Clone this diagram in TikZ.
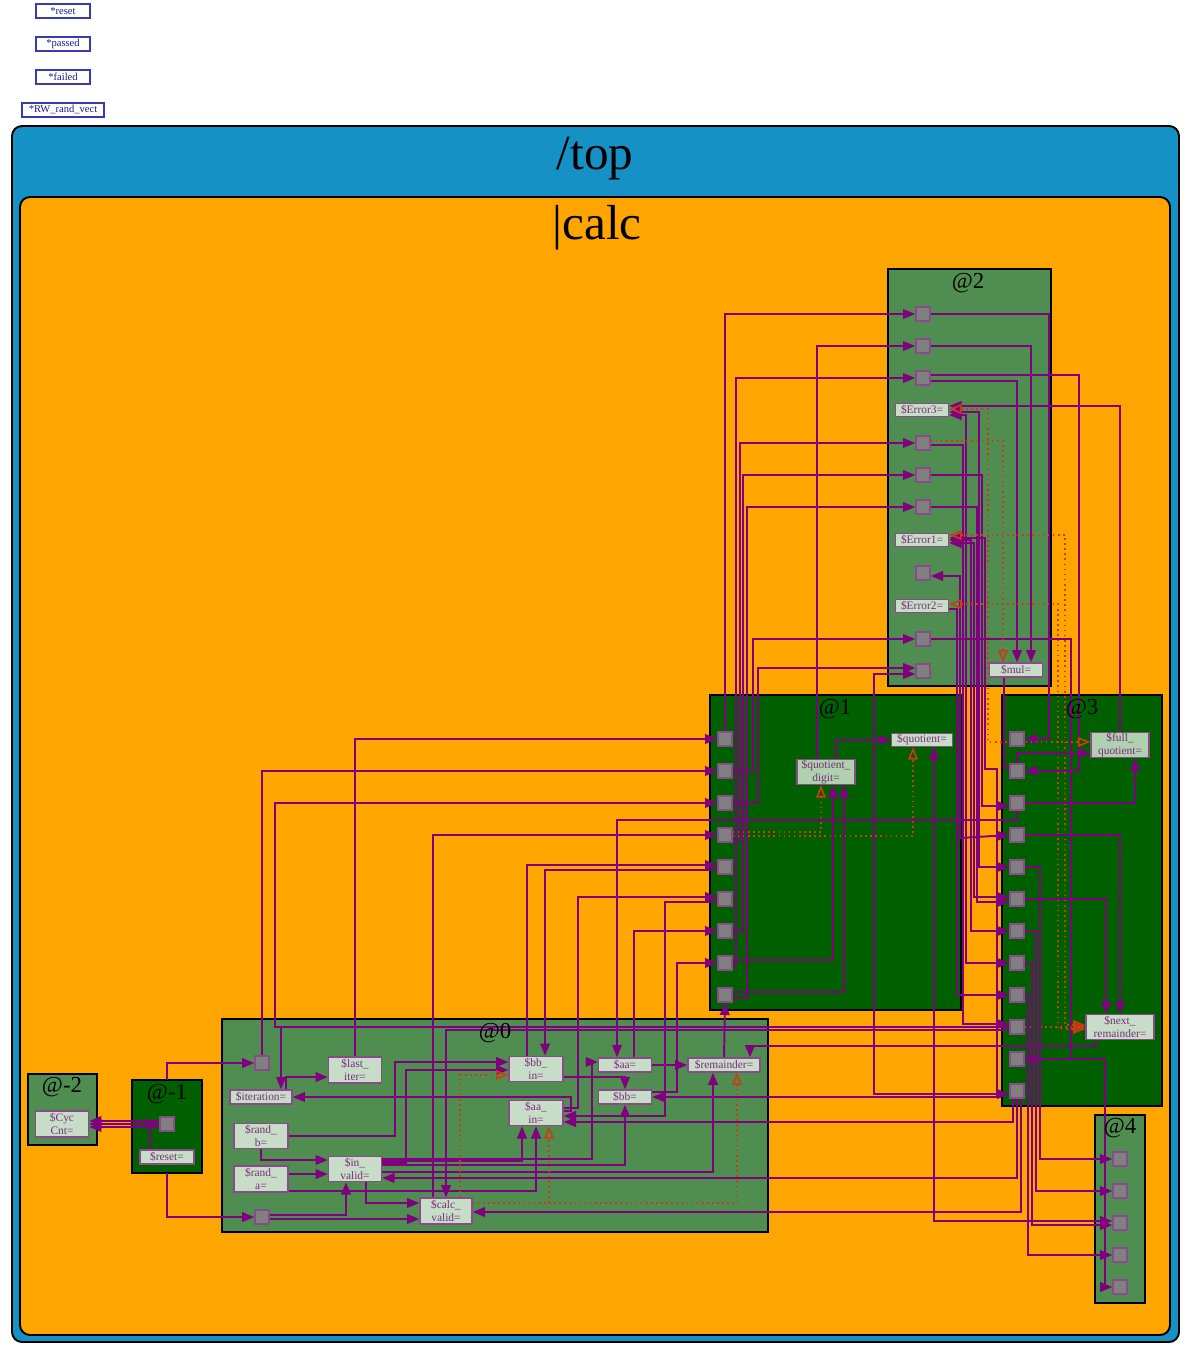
\documentclass[tikz,border=0pt]{standalone}
\usepackage{fontspec}
\setmainfont{Liberation Serif}
\usetikzlibrary{arrows.meta,positioning,calc}
\definecolor{topblue}{HTML}{1591C5}
\definecolor{calcorange}{HTML}{FFA500}
\definecolor{grpmid}{HTML}{508D50}
\definecolor{grpdark}{HTML}{006000}
\definecolor{sigfill}{HTML}{C8DDC8}
\definecolor{sigfilldk}{HTML}{B0D0B0}
\definecolor{sigline}{HTML}{8B4A8B}
\definecolor{sigtext}{HTML}{7A2E7A}
\definecolor{portfill}{HTML}{808080}
\definecolor{wirec}{HTML}{800080}
\definecolor{dotc}{HTML}{D03A10}
\definecolor{legline}{HTML}{3A3AB0}
\definecolor{legtext}{HTML}{1A1A8C}
\newcommand\sigfont{\fontsize{6.5}{7}\selectfont}
\pgfdeclarelayer{bg}
\pgfdeclarelayer{wires}
\pgfsetlayers{bg,wires,main}

\begin{document}
\begin{tikzpicture}[x=0.02cm,y=-0.02cm,
    legbox/.style={draw=legline, line width=0.7pt, fill=white, text=legtext,
        font=\fontsize{6}{7}\selectfont, inner sep=0pt, minimum height=0.28cm, minimum width=#1cm},
    grp/.style={draw=black, line width=1.1pt, fill=#1},
    grplabel/.style={font=\fontsize{13}{14}\selectfont},
    port/.style={draw=sigline, line width=0.8pt, fill=portfill, minimum size=0.28cm, inner sep=0pt},
    sig/.style 2 args={draw=sigline, line width=0.8pt, fill=sigfill, text=sigtext, font=\sigfont,
        align=center, inner sep=0pt, minimum width=#1cm, minimum height=#2cm},
    wire/.style={draw=wirec, line width=1.1pt, -{Triangle[length=7pt,width=5.5pt]}},
    wire2/.style={draw=wirec, line width=1.1pt, {Triangle[length=7pt,width=5.5pt]}-{Triangle[length=7pt,width=5.5pt]}},
    link/.style={draw=wirec, line width=1.1pt},
    dot/.style={draw=dotc, line width=0.9pt, dotted, -{Triangle[open,length=7pt,width=5.5pt]}},
    dot2/.style={draw=dotc, line width=0.9pt, dotted, {Triangle[open,length=7pt,width=5.5pt]}-{Triangle[open,length=7pt,width=5.5pt]}}]
\useasboundingbox (0,0) rectangle (1191,1355);

% legend
\node[legbox=1.08] (lg1) at (63,11) {*reset};
\node[legbox=1.08] (lg2) at (63,44) {*passed};
\node[legbox=1.08] (lg3) at (63,77) {*failed};
\node[legbox=1.64] (lg4) at (63,110) {*RW\_rand\_vect};

% frames and groups
\begin{pgfonlayer}{bg}
\draw[grp=topblue, rounded corners=0.2cm] (12,126) rectangle (1179,1342);
\draw[grp=calcorange, rounded corners=0.2cm] (20,197) rectangle (1170,1335);
\draw[grp=grpmid] (888,269) rectangle (1051,686);
\draw[grp=grpdark] (710,695) rectangle (961,1010);
\draw[grp=grpdark] (1002,695) rectangle (1162,1106);
\draw[grp=grpmid] (222,1019) rectangle (768,1232);
\draw[grp=grpmid] (28,1074) rectangle (97,1145);
\draw[grp=grpdark] (132,1080) rectangle (202,1173);
\draw[grp=grpmid] (1095,1115) rectangle (1145,1303);
\end{pgfonlayer}
\node[font=\fontsize{28}{30}\selectfont] (ttop) at (595,159) {/top};
\node[font=\fontsize{28}{30}\selectfont] (tcalc) at (597,228) {|calc};
\node[grplabel] (l2) at (968,283) {@2};
\node[grplabel] (l1) at (835,709) {@1};
\node[grplabel] (l3) at (1082,709) {@3};
\node[grplabel] (l0) at (495,1033) {@0};
\node[grplabel] (lm2) at (62,1087) {@-2};
\node[grplabel] (lm1) at (167,1094) {@-1};
\node[grplabel] (l4) at (1120,1128) {@4};

% ports
\foreach \y [count=\i] in {314,346,378,443,475,507,573,639,671}
    \node[port] (p2-\i) at (923,\y) {};
\foreach \i in {1,...,9}
    \node[port] (p1-\i) at (725,707+32*\i) {};
\foreach \i in {1,...,12}
    \node[port] (p3-\i) at (1017,707+32*\i) {};
\foreach \i in {1,...,5}
    \node[port] (p4-\i) at (1120,1127+32*\i) {};
\node[port] (p0-1) at (262,1063) {};
\node[port] (p0-2) at (262,1217) {};
\node[port] (pm1) at (167,1124) {};

% signals
\node[sig={1.06}{0.26}] (err3) at (922,410) {\$Error3=};
\node[sig={1.06}{0.26}] (err1) at (922,540) {\$Error1=};
\node[sig={1.06}{0.26}] (err2) at (922,606) {\$Error2=};
\node[sig={1.06}{0.28}] (mul) at (1016,670) {\$mul=};
\node[sig={1.16}{0.5}, fill=sigfilldk] (qd) at (826,772) {\$quotient\_\\digit=};
\node[sig={1.22}{0.26}] (quot) at (922,740) {\$quotient=};
\node[sig={1.16}{0.5}, fill=sigfilldk] (fq) at (1120,745) {\$full\_\\quotient=};
\node[sig={1.36}{0.5}] (nr) at (1120,1027) {\$next\_\\remainder=};
\node[sig={1.06}{0.52}] (lastit) at (355,1070) {\$last\_\\iter=};
\node[sig={1.24}{0.28}] (iter) at (261,1097) {\$iteration=};
\node[sig={1.08}{0.5}] (randb) at (261,1136) {\$rand\_\\b=};
\node[sig={1.08}{0.52}] (randa) at (261,1179) {\$rand\_\\a=};
\node[sig={1.06}{0.5}] (inval) at (355,1169) {\$in\_\\valid=};
\node[sig={1.04}{0.52}] (calcv) at (446,1211) {\$calc\_\\valid=};
\node[sig={1.08}{0.5}] (bbin) at (536,1069) {\$bb\_\\in=};
\node[sig={1.08}{0.5}] (aain) at (536,1113) {\$aa\_\\in=};
\node[sig={1.06}{0.28}] (aa) at (625,1065) {\$aa=};
\node[sig={1.06}{0.28}] (bb) at (625,1097) {\$bb=};
\node[sig={1.44}{0.28}] (rem) at (724,1065) {\$remainder=};
\node[sig={1.06}{0.52}] (cyc) at (62,1124) {\$Cyc\\Cnt=};
\node[sig={1.08}{0.28}] (rst) at (167,1157) {\$reset=};
\coordinate (m1top) at (167,1080);
\coordinate (m1bot) at (167,1173);

\begin{pgfonlayer}{wires}
% @1 up to @2
\draw[wire] (p1-1.north) |- (p2-1.west);
\draw[wire] ($(p1-8.east)+(0,3)$) -| (736,378) -- (p2-3.west);
\draw[wire] ($(p1-4.east)+(0,5)$) -| (740,443) -- (p2-4.west);
\draw[wire] (p1-7.east) -| (743,475) -- (p2-5.west);
\draw[wire] ($(p1-9.east)+(0,3)$) -| (747,507) -- (p2-6.west);
\draw[wire] (p1-2.east) -| (753,639) -- (p2-8.west);
\draw[wire] (p1-3.east) -| (758,668) -- ($(p2-9.west)+(0,-3)$);
\draw[wire] ($(qd.north)+(-9,0)$) |- (p2-2.west);
\draw[wire] ($(qd.north)+(10,0)$) |- (quot.west);
\draw[wire] ($(p1-8.east)+(0,-3)$) -| ($(qd.south)+(7,0)$);
\draw[wire] ($(p1-9.east)+(0,-3)$) -| ($(qd.south)+(18,0)$);
\draw[dot] ($(p1-4.east)+(0,-3)$) -| ($(qd.south)+(-5,0)$);
\draw[dot] ($(p1-4.east)+(0,1)$) -| ($(quot.south)+(-9,0)$);
% @2 outputs
\draw[wire] (p2-1.east) -| (1049,739) -- (p3-1.east);
\draw[wire] (p2-2.east) -| ($(mul.north)+(15,0)$);
\draw[wire] ($(p2-3.east)+(0,-3)$) -| (1079,771) -- (p3-2.east);
\draw[wire] ($(p2-3.east)+(0,3)$) -| ($(mul.north)+(1,0)$);
\draw[wire] (fq.north) |- ($(err3.east)+(0,-4)$);
\draw[wire] (p2-8.east) -| (1071,1059) -- (p3-11.east);
\draw[wire2] ($(p2-9.west)+(0,3)$) -| (874,1094) -- ($(p3-12.west)+(0,3)$);
\draw[wire] ($(p2-4.east)+(0,2)$) -| (963,1024) -- ($(p3-10.west)+(0,-3)$);
\draw[wire] (p2-5.east) -| (982,806) -- ($(p3-3.west)+(0,3)$);
\draw[wire] (p2-6.east) -| (977,902) -- ($(p3-6.west)+(0,3)$);
\draw[wire] ($(err2.east)+(0,3)$) -| (957,995) -- (p3-9.west);
\draw[wire2] ($(err3.east)+(0,5)$) -| (966,963) -- (p3-8.west);
\draw[wire2] ($(err3.east)+(0,2)$) -| (979,867) -- (p3-5.west);
\draw[wire2] (err1.east) -| (971,931) -- (p3-7.west);
\draw[wire2] ($(err1.east)+(0,3)$) -| (974,897) -- ($(p3-6.west)+(0,-2)$);
\draw[wire2] ($(err1.east)+(0,-2)$) -| (985,769) -| (997,1097) -- (bb.east);
\draw[wire2] ($(p2-7.east)+(0,3)$) -| (960,838) -- (p3-4.west);
\draw[link] ($(mul.south)+(-12,0)$) |- ($(p3-2.west)+(0,-3)$);
% dotted nets
\draw[dot] ($(p2-4.east)+(0,-2)$) -| ($(mul.north)+(-13,0)$);
\draw[dot2] ($(err3.east)+(0,-1)$) -| (988,742) -- ($(fq.west)+(0,-3)$);
\draw[dot2] ($(err1.east)+(0,-5)$) -| (1065,1025) -- ($(nr.west)+(0,-2)$);
\draw[dot2] ($(err2.east)+(0,-2)$) -| (1058,1029) -- ($(nr.west)+(0,2)$);
\draw[dot] (p3-10.east) -- (nr.west);
% @3 internal
\draw[wire] (p3-2.north) |- ($(fq.west)+(0,8)$);
\draw[wire] (p3-3.east) -| ($(fq.south)+(15,0)$);
\draw[wire] (p3-4.east) -| (nr.north);
\draw[wire] (p3-6.east) -| ($(nr.north)+(-14,0)$);
\draw[wire] ($(nr.south)+(-24,0)$) |- (750,1046) -- ($(rem.north)+(26,0)$);
% @3 to @4
\draw[wire] (p3-5.east) -| (1040,1159) -- (p4-1.west);
\draw[wire] (p3-7.east) -| (1036,1191) -- (p4-2.west);
\draw[wire] (p3-8.east) -| (1032,1225) -- ($(p4-3.west)+(0,2)$);
\draw[wire] (p3-9.east) -| (1028,1255) -- (p4-4.west);
\draw[wire] (p3-11.east) -| (1105,1287) -- (p4-5.west);
\draw[wire2] ($(quot.south)+(12,0)$) |- ($(p4-3.west)+(0,-2)$);
% @3 to @0
\draw[wire] ($(p3-12.south)+(-4,0)$) |- ($(aain.east)+(0,9)$);
\draw[wire] (p3-12.south) |- ($(inval.east)+(0,9)$);
\draw[wire] ($(p3-12.south)+(4,0)$) |- ($(calcv.east)+(0,1)$);
\draw[wire] (p3-10.west) -| ($(iter.north)+(20,0)$);
\draw[wire] (p3-10.west) -| (275,803) -- (p1-3.west);
\draw[wire] ($(p3-10.west)+(0,3)$) -| (calcv.north);
% @0 up to @1
\draw[wire] (lastit.north) |- (p1-1.west);
\draw[wire] (p0-1.north) |- (p1-2.west);
\draw[wire] ($(calcv.north)+(-13,0)$) |- (p1-4.west);
\draw[wire] ($(bbin.north)+(-9,0)$) |- ($(p1-5.west)+(0,-2)$);
\draw[wire] ($(p1-5.west)+(0,3)$) -| ($(bbin.north)+(9,0)$);
\draw[wire] ($(aain.east)+(0,-5)$) -| (578,897) -- ($(p1-6.west)+(0,-2)$);
\draw[wire] ($(aain.east)+(0,-2)$) -| (571,1097) -- (iter.east);
\draw[wire] ($(p1-6.west)+(0,3)$) -| (665,1116) -- ($(aain.east)+(0,3)$);
\draw[wire] ($(aa.north)+(9,0)$) |- (p1-7.west);
\draw[wire] (p3-3.south) |- (617,820) -- ($(aa.north)+(-8,0)$);
\draw[wire] ($(bb.east)+(0,-5)$) -| (677,963) -- (p1-8.west);
\draw[wire] (rem.north) -- (p1-9.south);
% @0 internal
\draw[wire] ($(iter.north)+(25,0)$) |- ($(lastit.west)+(0,7)$);
\draw[wire] (randb.east) -| (395,1062) -- ($(bbin.west)+(0,-7)$);
\draw[wire] (randb.south) |- ($(inval.west)+(0,-9)$);
\draw[wire] ($(randa.east)+(0,-5)$) -- ($(inval.west)+(0,5)$);
\draw[wire] ($(randa.south east)+(0,-2)$) -| (aain.south);
\draw[wire] ($(p0-2.east)+(0,2)$) -- ($(calcv.west)+(0,8)$);
\draw[wire] ($(p0-2.east)+(0,-2)$) -| ($(inval.south)+(-9,0)$);
\draw[wire] ($(inval.south)+(11,0)$) |- ($(calcv.west)+(0,-8)$);
\draw[wire] ($(inval.east)+(0,-10)$) -| (592,1062) -- ($(aa.west)+(0,-3)$);
\draw[wire] ($(inval.east)+(0,-8)$) -| ($(aain.south)+(-14,0)$);
\draw[wire] ($(inval.east)+(0,-6)$) -| (406,1070) -- ($(bbin.west)+(0,1)$);
\draw[wire] ($(inval.east)+(0,-4)$) -| (bb.south);
\draw[wire] ($(inval.east)+(0,3)$) -| ($(rem.south)+(-11,0)$);
\draw[wire] ($(bbin.east)+(0,8)$) -| (bb.north);
\draw[wire] (aa.east) -- (rem.west);
\draw[dot] ($(calcv.east)+(0,-8)$) -| ($(rem.south)+(13,0)$);
\draw[dot] ($(calcv.east)+(0,-8)$) -| ($(aain.south)+(13,0)$);
\draw[dot] ($(calcv.north)+(14,0)$) |- ($(bbin.west)+(0,6)$);
% @-1 and @-2
\draw[wire] ($(rst.north)+(-17,0)$) |- (pm1.west);
\draw[wire] ($(rst.north)+(-17,0)$) |- (cyc.east);
\draw[wire] ($(pm1.west)+(0,-3)$) -- ($(cyc.east)+(0,-3)$);
\draw[wire] ($(pm1.west)+(0,3)$) -- ($(cyc.east)+(0,3)$);
\draw[wire] (m1top) |- (p0-1.west);
\draw[wire] (m1bot) |- (p0-2.west);
\end{pgfonlayer}
\end{tikzpicture}
\end{document}
